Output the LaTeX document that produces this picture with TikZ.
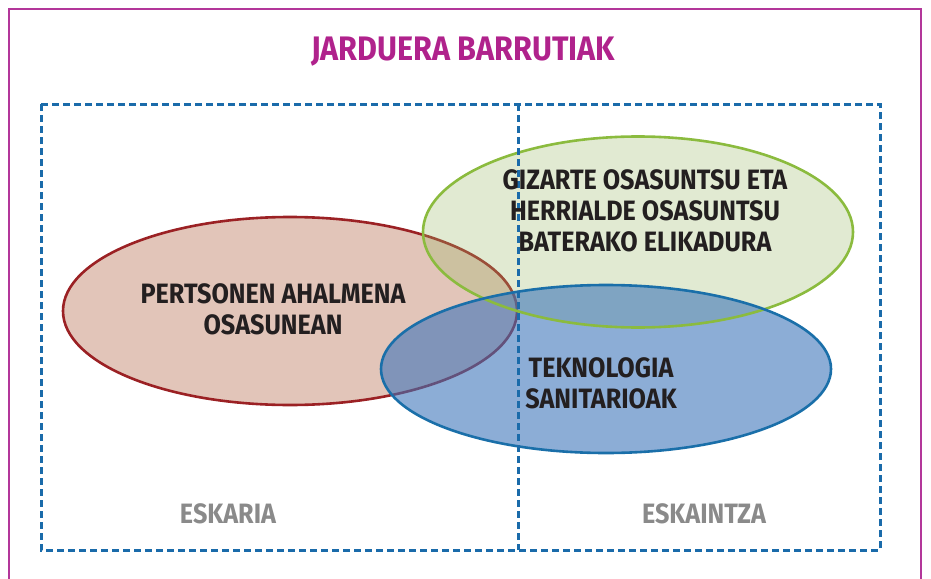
\documentclass[tikz,border=0pt]{standalone}
\usepackage{fontspec}
\usepackage{xcolor}
\usetikzlibrary{shapes, positioning}

\newfontfamily\barrutifont[FakeStretch=0.9]{Fira Sans}

\definecolor{izenburu}{HTML}{B0228C}
\definecolor{marko}{HTML}{B3369A}
\definecolor{marra}{HTML}{1A6BAA}
\definecolor{gorriertz}{HTML}{9B2124}
\definecolor{gorribete}{HTML}{E2C5B9}
\definecolor{berdeertz}{HTML}{8BBB3E}
\definecolor{berdebete}{HTML}{9BB969}
\definecolor{urdinertz}{HTML}{1A6FA9}
\definecolor{urdinbete}{HTML}{3C73B9}
\definecolor{testu}{HTML}{231F20}
\definecolor{gris}{HTML}{8A8A8A}

\begin{document}
\begin{tikzpicture}[
    x=1pt, y=-1pt,
    barruti/.style={ellipse, inner sep=0pt},
    ertza/.style={line width=2.6pt},
    etiketa/.style={align=center, text=testu, font=\barrutifont\bfseries\fontsize{28}{31}\selectfont},
    alde/.style={text=gris, font=\barrutifont\bfseries\fontsize{28}{30}\selectfont},
    zatiketa/.style={draw=marra, line width=3pt, dash pattern=on 7pt off 4pt}
  ]
  \clip (0,0) rectangle (931,578);

  % kanpoko markoa
  \draw[marko, line width=2.4pt] (9,9) rectangle (921,600);
  \node[text=izenburu, font=\barrutifont\bfseries\fontsize{34}{40}\selectfont] (izenburua) at (463,52) {JARDUERA BARRUTIAK};

  % barrutiak
  \node[barruti, draw=gorriertz, ertza, fill=gorribete, minimum width=454pt, minimum height=188pt] (pertsonak) at (290,311) {};
  \node[barruti, fill=berdebete, fill opacity=0.3, minimum width=430pt, minimum height=191pt] (elikadura) at (638,232) {};
  \node[barruti, fill=urdinbete, fill opacity=0.59, minimum width=450pt, minimum height=168pt] (teknologia) at (606,369) {};
  \draw[berdeertz, ertza] (elikadura.center) ellipse [x radius=215, y radius=95.5];
  \draw[urdinertz, ertza] (teknologia.center) ellipse [x radius=225, y radius=84];

  % eskaria / eskaintza
  \coordinate (goia) at (518,104);
  \coordinate (behea) at (518,550);
  \draw[zatiketa] (41,104) rectangle (880,550);
  \draw[zatiketa] (goia) -- (behea);

  \node[etiketa] (pertsonak-t) at (273,309) {PERTSONEN AHALMENA\\OSASUNEAN};
  \node[etiketa] (elikadura-t) at (645,211) {GIZARTE OSASUNTSU ETA\\HERRIALDE OSASUNTSU\\BATERAKO ELIKADURA};
  \node[etiketa] (teknologia-t) at (601,383) {TEKNOLOGIA\\SANITARIOAK};

  \node[alde] (eskaria) at (228,514) {ESKARIA};
  \node[alde] (eskaintza) at (704,514) {ESKAINTZA};
\end{tikzpicture}
\end{document}
